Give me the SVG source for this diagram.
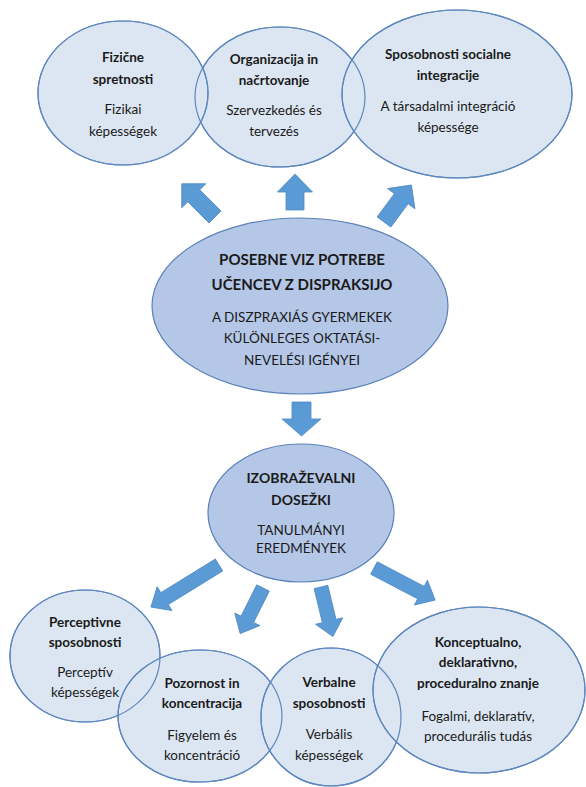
<svg xmlns="http://www.w3.org/2000/svg" width="586" height="787" viewBox="0 0 586 787">
<style>
.bub{fill:#dce6f2;stroke:#5d87bf;stroke-width:1.2}
.mid{fill:#b4c7e7;stroke:#5a82b8;stroke-width:1.2}
.ol{fill:none;stroke:#5d87bf;stroke-width:1.2}
.arr{fill:#5b9bd5;stroke:#4f88c6;stroke-width:0.8}
.t{font-family:Lato,"Open Sans","Liberation Sans",sans-serif;font-size:13.5px;fill:#1a1a1a;text-anchor:middle}
.b{font-weight:bold}
.big{font-size:15px}
.cap{font-size:14px}
</style>
<rect width="586" height="787" fill="#ffffff"/>

<g id="node-organizacija">
<ellipse class="bub" cx="280" cy="97" rx="85" ry="70"/>
<text class="t b" x="274" y="64">Organizacija in</text>
<text class="t b" x="274" y="85">načrtovanje</text>
<text class="t" x="274" y="115">Szervezkedés és</text>
<text class="t" x="274" y="136">tervezés</text>
</g>
<g id="node-fizicne">
<ellipse class="bub" cx="123" cy="93" rx="85" ry="72"/>
<text class="t b" x="123" y="62">Fizične</text>
<text class="t b" x="123" y="84">spretnosti</text>
<text class="t" x="123" y="114">Fizikai</text>
<text class="t" x="123" y="136">képességek</text>
</g>
<g id="node-sposobnosti">
<ellipse class="bub" cx="457" cy="94" rx="115" ry="84"/>
<text class="t b" x="448" y="59">Sposobnosti socialne</text>
<text class="t b" x="448" y="80">integracije</text>
<text class="t" x="448" y="111">A társadalmi integráció</text>
<text class="t" x="448" y="132">képessége</text>
</g>

<g id="node-posebne">
<ellipse class="mid" cx="300" cy="306" rx="148" ry="88"/>
<text class="t b big" x="302" y="265">POSEBNE VIZ POTREBE</text>
<text class="t b big" x="302" y="290">UČENCEV Z DISPRAKSIJO</text>
<text class="t" x="302" y="322">A DISZPRAXIÁS GYERMEKEK</text>
<text class="t" x="302" y="343">KÜLÖNLEGES OKTATÁSI-</text>
<text class="t" x="302" y="365">NEVELÉSI IGÉNYEI</text>
</g>

<g id="node-izobrazevalni">
<ellipse class="mid" cx="301" cy="513" rx="93" ry="69"/>
<text class="t b cap" x="301" y="483">IZOBRAŽEVALNI</text>
<text class="t b cap" x="301" y="505">DOSEŽKI</text>
<text class="t" x="301" y="535">TANULMÁNYI</text>
<text class="t" x="301" y="553">EREDMÉNYEK</text>
</g>

<g id="node-perceptivne">
<ellipse class="bub" cx="85" cy="656" rx="75" ry="66"/>
<text class="t b" x="85" y="627">Perceptivne</text>
<text class="t b" x="85" y="647">sposobnosti</text>
<text class="t" x="85" y="677">Perceptív</text>
<text class="t" x="85" y="697">képességek</text>
</g>
<g id="node-pozornost">
<ellipse class="bub" cx="200" cy="716" rx="82" ry="66"/>
<text class="t b" x="202" y="688">Pozornost in</text>
<text class="t b" x="202" y="708">koncentracija</text>
<text class="t" x="202" y="740">Figyelem és</text>
<text class="t" x="202" y="760">koncentráció</text>
</g>
<g id="node-verbalne">
<ellipse class="bub" cx="331" cy="717" rx="70" ry="69"/>
<text class="t b" x="329" y="687">Verbalne</text>
<text class="t b" x="329" y="708">sposobnosti</text>
<text class="t" x="329" y="739">Verbális</text>
<text class="t" x="329" y="760">képességek</text>
</g>
<g id="node-konceptualno">
<ellipse class="bub" cx="479" cy="690" rx="106" ry="83"/>
<text class="t b" x="478" y="647">Konceptualno,</text>
<text class="t b" x="478" y="667">deklarativno,</text>
<text class="t b" x="478" y="688">proceduralno znanje</text>
<text class="t" x="478" y="721">Fogalmi, deklaratív,</text>
<text class="t" x="478" y="741">procedurális tudás</text>
</g>

<g id="outlines">
<ellipse class="ol" cx="280" cy="97" rx="85" ry="70"/>
<ellipse class="ol" cx="123" cy="93" rx="85" ry="72"/>
<ellipse class="ol" cx="457" cy="94" rx="115" ry="84"/>
<ellipse class="ol" cx="85" cy="656" rx="75" ry="66"/>
<ellipse class="ol" cx="200" cy="716" rx="82" ry="66"/>
<ellipse class="ol" cx="331" cy="717" rx="70" ry="69"/>
<ellipse class="ol" cx="479" cy="690" rx="106" ry="83"/>
</g>

<g id="connectors">
<path class="arr" transform="translate(215,217) rotate(-135)" d="M0,-8.5 H30 V-17 L47,0 L30,17 V8.5 H0 Z"/>
<path class="arr" transform="translate(295,210) rotate(-90)" d="M0,-9 H18 V-17.5 L36,0 L18,17.5 V9 H0 Z"/>
<path class="arr" transform="translate(384,222) rotate(-53.5)" d="M0,-8.5 H29 V-17 L46,0 L29,17 V8.5 H0 Z"/>
<path class="arr" transform="translate(301.5,402) rotate(90)" d="M0,-9.5 H17 V-19.5 L34,0 L17,19.5 V9.5 H0 Z"/>
<path class="arr" transform="translate(219,565) rotate(148.3)" d="M0,-7 H64 V-14 L80,0 L64,14 V7 H0 Z"/>
<path class="arr" transform="translate(263,588) rotate(116.6)" d="M0,-7 H35 V-14 L51,0 L35,14 V7 H0 Z"/>
<path class="arr" transform="translate(321,587) rotate(76.5)" d="M0,-7 H35 V-14 L51,0 L35,14 V7 H0 Z"/>
<path class="arr" transform="translate(374,568) rotate(27.7)" d="M0,-7 H53 V-14 L69,0 L53,14 V7 H0 Z"/>
</g>
</svg>
